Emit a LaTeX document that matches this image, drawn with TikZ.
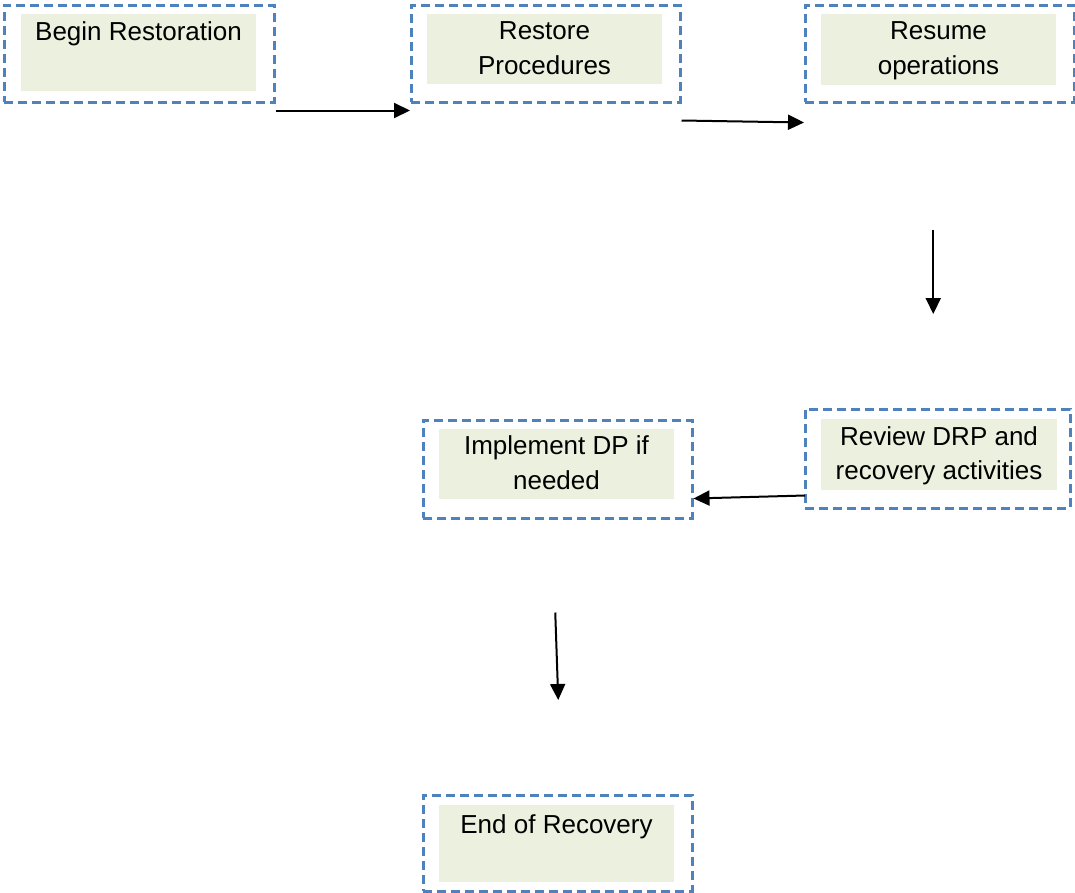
\documentclass[tikz,border=0pt]{standalone}
\usepackage{fontspec}
\setmainfont{Liberation Sans}
\usetikzlibrary{arrows.meta,calc}
\definecolor{dashblue}{HTML}{4F81BD}
\definecolor{softgreen}{HTML}{EBF1DE}
\tikzset{
  outerbox/.style={draw=dashblue, line width=2.5pt, dash pattern=on 9pt off 5pt,
    anchor=north west, inner sep=0pt, minimum width=#1},
  greenbox/.style={fill=softgreen, draw=none, anchor=north west, inner sep=0pt},
  lbl/.style={anchor=base, inner sep=0pt, align=center,
    font=\fontsize{26}{34.5}\selectfont},
  conn/.style={line width=2pt, -{Triangle[length=16pt,width=15pt]}}
}
\begin{document}
\begin{tikzpicture}[x=1pt,y=-1pt]
\useasboundingbox (0,0) rectangle (1075,892);
% outer dashed boxes
\node[outerbox=270pt, minimum height=97pt] (b1) at (3,4) {};
\node[outerbox=269pt, minimum height=97pt] (b2) at (410,4) {};
\node[outerbox=269pt, minimum height=97pt] (b3) at (804,4) {};
\node[outerbox=269pt, minimum height=98pt] (b4) at (422,419) {};
\node[outerbox=265pt, minimum height=99pt] (b5) at (804,408) {};
\node[outerbox=269pt, minimum height=96pt] (b6) at (422,794) {};
% green inner boxes
\node[greenbox, minimum width=235pt, minimum height=77pt] (g1) at (21,14) {};
\node[greenbox, minimum width=235pt, minimum height=70pt] (g2) at (427,14) {};
\node[greenbox, minimum width=235pt, minimum height=71pt] (g3) at (821,14) {};
\node[greenbox, minimum width=235pt, minimum height=70pt] (g4) at (439,429) {};
\node[greenbox, minimum width=236pt, minimum height=71pt] (g5) at (821,419) {};
\node[greenbox, minimum width=235pt, minimum height=77pt] (g6) at (439,805) {};
% labels (base anchor = baseline of last line)
\node[lbl] (t1) at (138.5,40) {Begin Restoration};
\node[lbl] (t2) at (544.5,74) {Restore\\Procedures};
\node[lbl] (t3) at (938.5,74) {Resume\\operations};
\node[lbl] (t4) at (556.5,489) {Implement DP if\\needed};
\node[lbl] (t5) at (939,479.5) {Review DRP and\\recovery activities};
\node[lbl] (t6) at (556.5,833) {End of Recovery};
% connectors
\draw[conn] ($(b1.south east)+(0,7)$) -- ($(b2.south west)+(0,7)$);
\draw[conn] ($(b2.south east)+(0,17)$) -- ($(b3.south west)+(0,19)$);
\draw[conn] ($(b3.south)+(-6.5,126)$) -- ($(b5.north)+(-4.5,-94)$);
\draw[conn] ($(b5.south west)+(1,-14)$) -- ($(b4.south east)+(0,-21)$);
\draw[conn] ($(b4.south)+(-2.5,93)$) -- ($(b6.north)+(0.5,-94)$);
\end{tikzpicture}
\end{document}
